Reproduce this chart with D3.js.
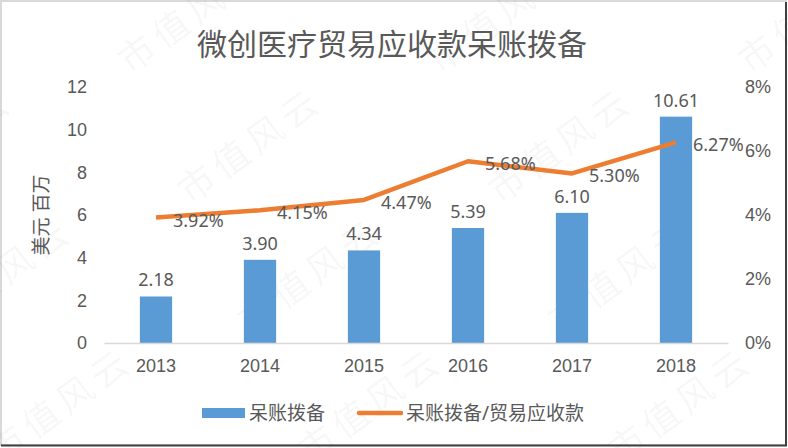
<!DOCTYPE html>
<html>
<head>
<meta charset="utf-8">
<script src="https://cdn.jsdelivr.net/npm/d3@7"></script>
<style>
  body { margin: 0; background: #fff; }
  svg { display: block; font-family: "Noto Sans", "Noto Sans CJK SC", sans-serif; }
</style>
</head>
<body>
<svg id="chart" width="788" height="448"></svg>
<script>
var years = ['2013', '2014', '2015', '2016', '2017', '2018'];
var provision = [2.18, 3.90, 4.34, 5.39, 6.10, 10.61];      // 呆账拨备, 美元 百万
var ratio = [3.92, 4.15, 4.47, 5.68, 5.30, 6.27];            // 呆账拨备/贸易应收款, %
var leftTicks = [0, 2, 4, 6, 8, 10, 12];
var rightTicks = [0, 2, 4, 6, 8];

var svg = d3.select('#chart'),
    width = +svg.attr('width'),
    height = +svg.attr('height');

var margin = {top: 87, right: 60, bottom: 105, left: 104};
var textColor = '#595959';

// frame
svg.append('rect')
  .attr('x', 1).attr('y', 1)
  .attr('width', width - 3).attr('height', height - 4)
  .attr('fill', '#fff')
  .attr('stroke', '#d9d9d9').attr('stroke-width', 2);
svg.append('line').attr('x1', 786).attr('x2', 786).attr('y1', 2).attr('y2', 446)
  .attr('stroke', '#404040').attr('stroke-width', 2);
svg.append('line').attr('x1', 1).attr('x2', 787).attr('y1', 445.5).attr('y2', 445.5)
  .attr('stroke', '#404040').attr('stroke-width', 2);

var x = d3.scaleBand()
    .domain(years)
    .range([margin.left, width - margin.right])
    .paddingInner(0.69)
    .paddingOuter(0.345);

var y = d3.scaleLinear().domain([0, 12]).range([height - margin.bottom, margin.top]);
var y2 = d3.scaleLinear().domain([0, 8]).range([height - margin.bottom, margin.top]);

// watermark (behind the marks, faint)
var marks = svg.append('g').attr('pointer-events', 'none');
for (var j = -2; j <= 2; j++) {
  for (var i = -2; i <= 3; i++) {
    var px = 190 + i * 310 + j * 60,
        py = 205 + j * 130;
    marks.append('text')
      .attr('transform', 'translate(' + px + ',' + py + ') rotate(-36)')
      .attr('font-size', 36)
      .attr('fill', '#000').attr('fill-opacity', 0.045)
      .attr('letter-spacing', 6)
      .text('市值风云');
  }
}

// title
svg.append('text')
  .attr('x', 392).attr('y', 43)
  .attr('text-anchor', 'middle').attr('dominant-baseline', 'central')
  .attr('font-size', 30).attr('fill', textColor)
  .text('微创医疗贸易应收款呆账拨备');

// left axis
var yAxis = svg.append('g')
  .attr('transform', 'translate(' + (margin.left - 17) + ',0)')
  .call(d3.axisLeft(y).tickValues(leftTicks).tickSize(0).tickPadding(0));
yAxis.select('.domain').remove();
yAxis.selectAll('text').attr('font-size', 18).attr('fill', textColor).attr('font-family', null);

// right axis
var y2Axis = svg.append('g')
  .attr('transform', 'translate(' + (width - margin.right + 17) + ',0)')
  .call(d3.axisRight(y2).tickValues(rightTicks).tickSize(0).tickPadding(0)
    .tickFormat(function(d) { return d + '%'; }));
y2Axis.select('.domain').remove();
y2Axis.selectAll('text').attr('font-size', 18).attr('fill', textColor).attr('font-family', null);

// y title
svg.append('text')
  .attr('transform', 'translate(41,215) rotate(-90)')
  .attr('text-anchor', 'middle').attr('dominant-baseline', 'central')
  .attr('font-size', 19).attr('fill', textColor)
  .text('美元 百万');

// bars
svg.append('g').selectAll('rect')
  .data(provision)
  .enter().append('rect')
  .attr('x', function(d, i) { return x(years[i]); })
  .attr('y', function(d) { return y(d); })
  .attr('width', x.bandwidth())
  .attr('height', function(d) { return y(0) - y(d); })
  .attr('fill', '#5b9bd5');

// x axis
var xAxis = svg.append('g')
  .attr('transform', 'translate(0,' + y(0) + ')')
  .call(d3.axisBottom(x).tickSize(0).tickPadding(16));
xAxis.select('.domain').attr('stroke', '#d9d9d9').attr('stroke-width', 1.5);
xAxis.selectAll('text').attr('font-size', 18).attr('fill', textColor).attr('font-family', null);

// bar labels
svg.append('g').selectAll('text')
  .data(provision)
  .enter().append('text')
  .attr('x', function(d, i) { return x(years[i]) + x.bandwidth() / 2; })
  .attr('y', function(d) { return y(d) - 10; })
  .attr('text-anchor', 'middle')
  .attr('font-size', 18).attr('fill', textColor)
  .text(function(d) { return d.toFixed(2); });

// ratio line
var line = d3.line()
  .x(function(d, i) { return x(years[i]) + x.bandwidth() / 2; })
  .y(function(d) { return y2(d); });

svg.append('path')
  .datum(ratio)
  .attr('d', line)
  .attr('fill', 'none')
  .attr('stroke', '#ed7d31')
  .attr('stroke-width', 4.5)
  .attr('stroke-linejoin', 'round');

svg.append('g').selectAll('text')
  .data(ratio)
  .enter().append('text')
  .attr('x', function(d, i) { return x(years[i]) + x.bandwidth() / 2 + 17; })
  .attr('y', function(d) { return y2(d) + 2; })
  .attr('dominant-baseline', 'central')
  .attr('font-size', 18).attr('fill', textColor)
  .text(function(d) { return d.toFixed(2) + '%'; });

// legend
var legend = svg.append('g').attr('font-size', 19).attr('fill', textColor);
legend.append('rect').attr('x', 202).attr('y', 408).attr('width', 43).attr('height', 10).attr('fill', '#5b9bd5');
legend.append('text').attr('x', 249).attr('y', 413).attr('dominant-baseline', 'central').text('呆账拨备');
legend.append('line').attr('x1', 359).attr('x2', 401).attr('y1', 413).attr('y2', 413)
  .attr('stroke', '#ed7d31').attr('stroke-width', 4.5).attr('stroke-linecap', 'round');
legend.append('text').attr('x', 406).attr('y', 413).attr('dominant-baseline', 'central').text('呆账拨备/贸易应收款');
</script>
</body>
</html>
